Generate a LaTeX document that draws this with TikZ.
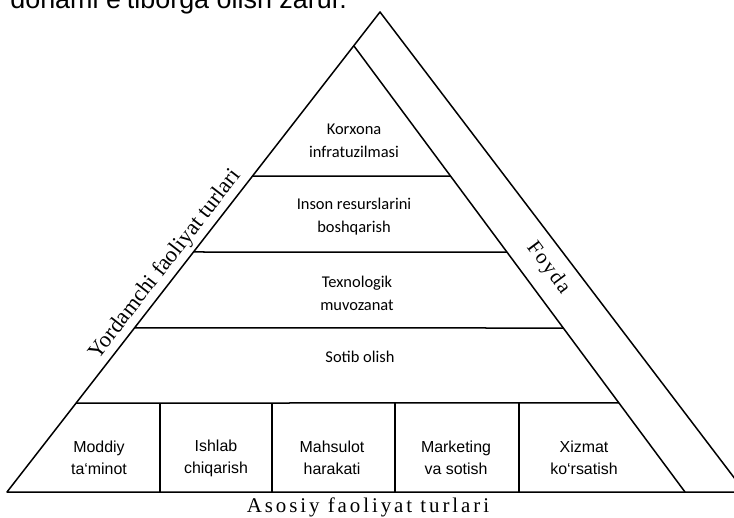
\documentclass[tikz,border=0pt]{standalone}
\usepackage{fontspec}
\setmainfont{Liberation Serif}
\newfontfamily\calfont{Carlito}
\newfontfamily\arifont{Liberation Sans}
\usetikzlibrary{calc}
\begin{document}
\begin{tikzpicture}[x=1bp,y=-1bp,
  edge/.style={line width=1.5bp, line join=round},
  upper/.style={font=\calfont\fontsize{16.5}{23}\selectfont, align=center, inner sep=1bp},
  lower/.style={font=\arifont\fontsize{16}{22}\selectfont, align=center, inner sep=1bp},
  sidelabel/.style={font=\fontsize{22.5}{26}\selectfont, inner sep=1bp}]
\clip (0,0) rectangle (734,518);
\coordinate (A) at (380,12);
\coordinate (L) at (7,492);
\coordinate (R) at (745,492);
\coordinate (I) at (354,46);
\coordinate (IR) at (685,492);
% outer triangle and inner pyramid edge
\draw[edge] (R) -- (A) -- (L) -- cycle;
\draw[edge] (I) -- (IR);
% level lines
\foreach \tl/\ti in {.3417/.2915, .5/.4619, .6583/.6323, .8146/.8004}
  \draw[edge] ($(A)!\tl!(L)$) -- ($(I)!\ti!(IR)$);
% bottom dividers
\foreach \x in {160,272,395,519}
  \draw[edge] (\x,403) -- (\x,492);
% upper labels
\node[upper] (korx) at (354,141) {Korxona\\infratuzilmasi};
\node[upper] (inson) at (354,217) {Inson resurslarini\\boshqarish};
\node[upper] (texn) at (357,293) {Texnologik\\muvozanat};
\node[upper] (sotib) at (360,357) {Sotib olish};
% lower labels
\node[lower] (b1) at (99,458) {Moddiy\\ta‘minot};
\node[lower] (b2) at (216,458) {Ishlab\\chiqarish};
\node[lower] (b3) at (332,458) {Mahsulot\\harakati};
\node[lower] (b4) at (456,458) {Marketing\\va sotish};
\node[lower] (b5) at (584,458) {Xizmat\\ko‘rsatish};
% side labels
\path (L) -- (A) node[sidelabel, pos=0.455, sloped, above=3bp] (yord) {Yordamchi faoliyat turlari};
\node[font=\addfontfeature{LetterSpace=8}\fontsize{21}{24}\selectfont, inner sep=1bp, rotate=-53.3] (foyda) at (548,268) {Foyda};
\node[font=\addfontfeature{LetterSpace=14}\fontsize{21}{24}\selectfont, inner sep=1bp] (asos) at (368,507) {Asosiy faoliyat turlari};
% clipped text line at top
\node[anchor=base east, font=\arifont\fontsize{27}{30}\selectfont, inner sep=0] (toptext) at (347,9) {donami e’tiborga olish zarur.};
\end{tikzpicture}
\end{document}
